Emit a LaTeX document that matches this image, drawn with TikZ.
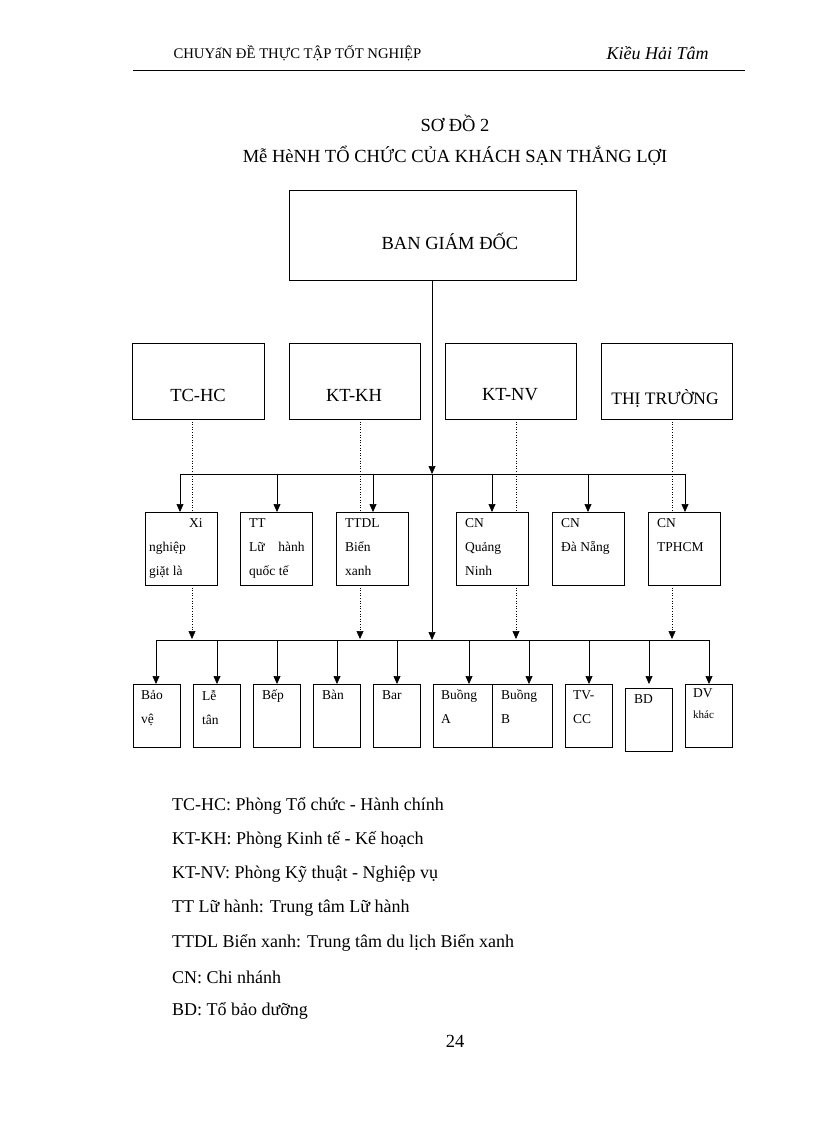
\documentclass[tikz,border=0pt]{standalone}
\usepackage{fontspec}
\setmainfont{Liberation Serif}
\usetikzlibrary{arrows.meta}
\begin{document}
\begin{tikzpicture}[x=1pt,y=-1pt,
 box/.style={draw,line width=0.8pt,inner sep=0pt},
 arr/.style={-{Triangle[length=8pt,width=7pt]},line width=0.6pt},
 dot/.style={dotted,line width=0.6pt},
 dar/.style={dotted,line width=0.6pt,-{Triangle[length=8pt,width=7pt]}},
 small/.style={font=\fontsize{13.5}{24}\selectfont,align=left,anchor=north west,inner sep=0pt},
 big/.style={font=\fontsize{18.5}{20}\selectfont},
 leg/.style={font=\fontsize{18}{20}\selectfont,anchor=west,inner sep=0pt}]
\useasboundingbox (0,0) rectangle (816,1123);
% header
\node[anchor=west,font=\fontsize{14.7}{16}\selectfont] (h1) at (170,53) {CHUYấN ĐỀ THỰC TẬP TỐT NGHIỆP};
\node[anchor=west,font=\fontsize{18}{20}\selectfont\itshape] (h2) at (603,53) {Kiều Hải Tâm};
\draw[line width=0.8pt] (133,70) -- (745,70);
\node[big] (t1) at (455,123) {SƠ ĐỒ 2};
\node[big] (t2) at (455,156) {Mễ HèNH TỔ CHỨC CỦA KHÁCH SẠN THẮNG LỢI};
% top
\draw[box] (289,190) rectangle (576,280);
\node[big] (bgd) at (450,241) {BAN GIÁM ĐỐC};
\coordinate (c1) at (432,280);
\coordinate (c2) at (432,474);
\coordinate (c3) at (432,640);
\draw[arr] (c1) -- (c2);
\draw[arr] (c2) -- (c3);
% level 2
\draw[box] (132,343) rectangle (264,419); \node[big] (tchc) at (198,395) {TC-HC};
\draw[box] (289,343) rectangle (420,419); \node[big] (ktkh) at (354,395) {KT-KH};
\draw[box] (445,343) rectangle (576,419); \node[big] (ktnv) at (510,395) {KT-NV};
\draw[box] (601,343) rectangle (732,419); \node[big,font=\fontsize{17.5}{20}\selectfont] (tt) at (665,398) {THỊ TRƯỜNG};
% dotted level2 -> level3
\foreach \x in {192,360,516,672} \draw[dot] (\x,419) -- (\x,512);
% horizontal line 1
\draw[line width=0.8pt] (180,474) -- (685,474);
\foreach \x in {180,277,373,492,588,685} \draw[arr] (\x,474) -- (\x,512);
% level 3 boxes
\foreach \x in {145,240,336,456,552,648} \draw[box] (\x,512) rectangle ++(72,73);
\node[small] (b1) at (149,518) {\hspace*{40pt}Xi\\nghiệp\\giặt là};
\node[small] (b2) at (249,518) {TT\\Lữ\quad hành\\quốc tế};
\node[small] (b3) at (345,518) {TTDL\\Biển\\xanh};
\node[small] (b4) at (465,518) {CN\\Quảng\\Ninh};
\node[small] (b5) at (561,518) {CN\\Đà Nẵng};
\node[small] (b6) at (657,518) {CN\\TPHCM};
% dotted level3 -> line 2
\foreach \x in {192,360,516,672} \draw[dar] (\x,585) -- (\x,639);
% horizontal line 2
\draw[line width=0.8pt] (156,640) -- (709,640);
\foreach \x in {156,217,277,337,397,469,529,589,649,709} \draw[arr] (\x,640) -- (\x,684);
% level 4 boxes
\foreach \x in {133,193,253,313,373,565,685} \draw[box] (\x,684) rectangle ++(47,63);
\draw[box] (433,684) rectangle (552,747);
\draw[box] (492,684) -- (492,747);
\draw[box] (625,688) rectangle (672,751);
\node[small] (l1) at (141,690) {Bảo\\vệ};
\node[small] (l2) at (202,690) {Lễ\\tân};
\node[small] (l3) at (262,690) {Bếp};
\node[small] (l4) at (322,690) {Bàn};
\node[small] (l5) at (382,690) {Bar};
\node[small] (l6) at (441,690) {Buồng\\A};
\node[small] (l7) at (501,690) {Buồng\\B};
\node[small] (l8) at (573,690) {TV-\\CC};
\node[small] (l9) at (634,694) {BD};
\node[small,font=\fontsize{13.5}{21}\selectfont] (l10) at (693,688) {DV\\{\fontsize{11}{12}\selectfont khác}};
% legend
\node[leg] (g1) at (172,806) {TC-HC: Phòng Tổ chức - Hành chính};
\node[leg] (g2) at (172,840) {KT-KH: Phòng Kinh tế - Kế hoạch};
\node[leg] (g3) at (172,874) {KT-NV: Phòng Kỹ thuật - Nghiệp vụ};
\node[leg] (g4) at (172,908) {TT Lữ hành: Trung tâm Lữ hành};
\node[leg] (g5) at (172,943) {TTDL Biển xanh: Trung tâm du lịch Biển xanh};
\node[leg] (g6) at (172,977) {CN: Chi nhánh};
\node[leg] (g7) at (172,1011) {BD: Tổ bảo dưỡng};
\node[big] (pg) at (455,1041) {24};
\end{tikzpicture}
\end{document}
